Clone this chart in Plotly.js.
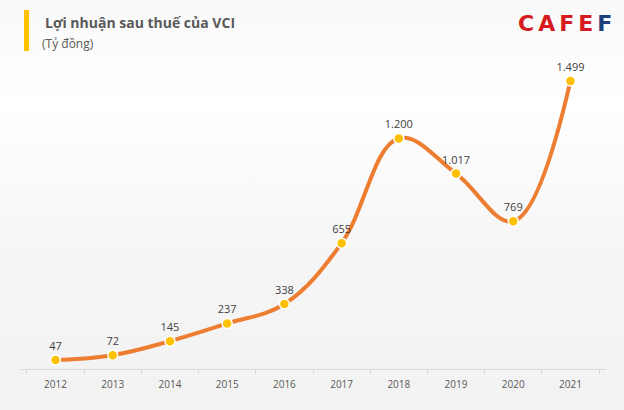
<!DOCTYPE html>
<html>
<head>
<meta charset="utf-8">
<script src="https://cdn.plot.ly/plotly-3.0.1.min.js"></script>
<style>
html,body{margin:0;padding:0;}
body{width:624px;height:410px;background:linear-gradient(to bottom,#f9f9f9 0%,#ffffff 25%,#f6f6f6 60%,#f2f2f2 100%);}
#chart{width:624px;height:410px;}
</style>
</head>
<body>
<div id="chart"></div>
<script>
const years = ['2012','2013','2014','2015','2016','2017','2018','2019','2020','2021'];
const profit = [47, 72, 145, 237, 338, 655, 1200, 1017, 769, 1499];
const profitLabels = ['47','72','145','237','338','655','1.200','1.017','769','1.499'];

const trace = {
  x: years,
  y: profit,
  text: profitLabels,
  type: 'scatter',
  mode: 'lines+markers+text',
  textposition: 'top center',
  textfont: {family: 'Open Sans, sans-serif', size: 11, color: '#404040'},
  line: {color: '#ED7D31', width: 4, shape: 'spline', smoothing: 1.1},
  marker: {color: '#FFC000', size: 10, line: {color: '#ffffff', width: 1.5}},
  cliponaxis: false,
  hoverinfo: 'skip'
};

const layout = {
  width: 624, height: 410,
  paper_bgcolor: 'rgba(0,0,0,0)',
  plot_bgcolor: 'rgba(0,0,0,0)',
  margin: {l: 20, r: 18, t: 50, b: 41},
  showlegend: false,
  font: {family: 'Open Sans, sans-serif', color: '#595959'},
  xaxis: {
    type: 'category',
    showgrid: false, zeroline: false,
    showline: true, linecolor: '#d9d9d9', linewidth: 1,
    ticks: 'outside', tickson: 'boundaries', ticklen: 4, tickcolor: '#d9d9d9',
    ticklabelstandoff: 6,
    tickfont: {size: 10, color: '#595959'},
    fixedrange: true
  },
  yaxis: {
    range: [0, 1660],
    visible: false, showgrid: false, zeroline: false,
    fixedrange: true
  },
  shapes: [
    {type: 'rect', xref: 'paper', yref: 'paper', xsizemode: 'pixel', ysizemode: 'pixel',
     xanchor: 0, yanchor: 1, x0: 4, x1: 9, y0: 40, y1: -1, fillcolor: '#FFC000', line: {width: 0}}
  ],
  annotations: [
    {xref: 'paper', yref: 'paper', x: 0, y: 1, xshift: 23, yshift: 28, xanchor: 'left', yanchor: 'middle',
     text: '<b>Lợi nhuận sau thuế của VCI</b>', showarrow: false,
     font: {family: 'Open Sans, sans-serif', size: 14, color: '#595959'}},
    {xref: 'paper', yref: 'paper', x: 0, y: 1, xshift: 20, yshift: 7, xanchor: 'left', yanchor: 'middle',
     text: '(Tỷ đồng)', showarrow: false,
     font: {family: 'Open Sans, sans-serif', size: 12, color: '#595959'}},
    {xref: 'paper', yref: 'paper', x: 1, y: 1, xshift: 8, yshift: 27, xanchor: 'right', yanchor: 'middle',
     text: '<b><span style="color:#D71920;letter-spacing:4px">CAFE</span><span style="color:#1F3F7A">F</span></b>', showarrow: false,
     font: {family: 'DejaVu Sans, sans-serif', size: 22}}
  ]
};

Plotly.newPlot('chart', [trace], layout, {displayModeBar: false, staticPlot: true});
</script>
</body>
</html>
